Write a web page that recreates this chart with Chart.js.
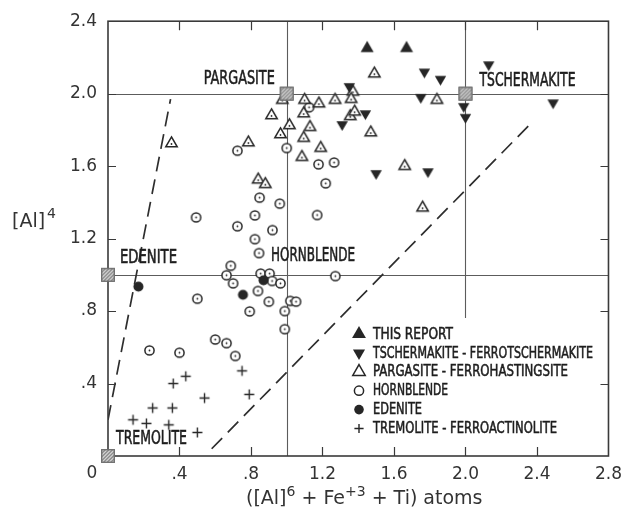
<!DOCTYPE html>
<html><head><meta charset="utf-8">
<script src="https://cdn.jsdelivr.net/npm/chart.js@4"></script>
<style>html,body{margin:0;padding:0;background:#fff;}#wrap{width:630px;height:516px;}</style>
</head><body><div id="wrap"><canvas id="c" width="630" height="516"></canvas></div>
<script>
// ---- data ----
const xTickValues = [0, 0.4, 0.8, 1.2, 1.6, 2.0, 2.4, 2.8];
const yTickValues = [0, 0.4, 0.8, 1.2, 1.6, 2.0, 2.4];
const gridXValues = [1.0, 2.0];
const gridYValues = [1.0, 2.0];

const thisReport = [[1.45, 2.25], [1.67, 2.25]];
const tschermakite = [[1.35, 2.04], [1.31, 1.83], [1.44, 1.89], [1.50, 1.56], [1.79, 1.57], [1.77, 2.12],
  [1.86, 2.08], [1.75, 1.98], [2.13, 2.16], [2.49, 1.95], [1.99, 1.93], [2.00, 1.87]];
const pargasite = [[1.49, 2.11], [1.37, 2.01], [1.36, 1.97], [1.27, 1.965], [1.18, 1.945], [1.10, 1.965],
  [1.095, 1.89], [0.975, 1.965], [0.915, 1.88], [1.015, 1.825], [0.965, 1.775], [1.13, 1.815],
  [1.095, 1.755], [1.19, 1.70], [1.085, 1.65], [0.785, 1.73], [0.355, 1.725], [0.84, 1.525],
  [0.88, 1.50], [1.355, 1.875], [1.38, 1.90], [1.47, 1.785], [1.84, 1.965], [1.66, 1.60], [1.76, 1.37]];
const hornblende = [[1.125, 1.925], [1.0, 1.70], [0.724, 1.685], [1.178, 1.61], [1.265, 1.62], [1.218, 1.505],
  [1.17, 1.33], [0.848, 1.426], [0.961, 1.393], [0.493, 1.317], [0.822, 1.328], [0.724, 1.268],
  [0.92, 1.247], [0.822, 1.197], [0.845, 1.12], [0.687, 1.05], [0.663, 0.998], [0.70, 0.953],
  [0.854, 1.007], [0.904, 1.007], [0.918, 0.966], [0.965, 0.953], [0.839, 0.911], [0.90, 0.852],
  [0.793, 0.798], [1.02, 0.856], [1.052, 0.852], [0.989, 0.80], [0.989, 0.70], [0.50, 0.868],
  [0.60, 0.643], [0.663, 0.623], [0.712, 0.552], [0.40, 0.57], [0.232, 0.583], [1.272, 0.993]];
const edenite = [[0.17, 0.935], [0.87, 0.97], [0.755, 0.89]];
const tremolite = [[0.75, 0.47], [0.79, 0.34], [0.435, 0.44], [0.365, 0.40], [0.54, 0.32], [0.25, 0.265],
  [0.36, 0.265], [0.14, 0.20], [0.215, 0.18], [0.34, 0.172], [0.50, 0.13]];
const endMembers = [[0, 0], [0, 1], [1, 2], [2, 2]];
const leftBoundary = [[0.0, 0.2], [0.35, 1.97]];
const rightBoundary = [[0.58, 0.04], [2.36, 1.83]];

const legendNames = ['THIS REPORT', 'TSCHERMAKITE - FERROTSCHERMAKITE', 'PARGASITE - FERROHASTINGSITE',
  'HORNBLENDE', 'EDENITE', 'TREMOLITE - FERROACTINOLITE'];
const fieldNames = ['PARGASITE', 'TSCHERMAKITE', 'EDENITE', 'HORNBLENDE', 'TREMOLITE'];

// ---- styling helpers ----
const INK = '#262626';
const toXY = a => a.map(p => ({x: p[0], y: p[1]}));

function triPath(g, x, y, r, down) {
  const k = down ? -1 : 1, h = r * Math.sqrt(3) / 2;
  g.beginPath();
  g.moveTo(x, y - k * r);
  g.lineTo(x + h, y + k * r / 2);
  g.lineTo(x - h, y + k * r / 2);
  g.closePath();
}
function drawMarker(g, kind, x, y, r, dot) {
  g.save();
  g.fillStyle = INK; g.strokeStyle = INK; g.lineWidth = 1.5;
  if (kind === 'upFilled') { triPath(g, x, y, r, false); g.fill(); }
  else if (kind === 'downFilled') { triPath(g, x, y, r, true); g.fill(); }
  else if (kind === 'upOpen') {
    triPath(g, x, y, r, false); g.fillStyle = '#fff'; g.fill(); g.stroke();
    if (dot) { g.fillStyle = INK; g.beginPath(); g.arc(x, y + 0.5, 0.9, 0, 7); g.fill(); }
  } else if (kind === 'circleOpen') {
    g.beginPath(); g.arc(x, y, r, 0, Math.PI * 2); g.fillStyle = '#fff'; g.fill(); g.stroke();
    if (dot) { g.fillStyle = INK; g.beginPath(); g.arc(x, y, 0.9, 0, 7); g.fill(); }
  } else if (kind === 'circleFilled') {
    g.beginPath(); g.arc(x, y, r, 0, Math.PI * 2); g.fill();
  } else if (kind === 'plus') {
    g.lineWidth = 1.4;
    g.beginPath(); g.moveTo(x - r, y); g.lineTo(x + r, y); g.moveTo(x, y - r); g.lineTo(x, y + r); g.stroke();
  } else if (kind === 'hatch') {
    const s = r;
    g.fillStyle = '#d4d4d4'; g.fillRect(x - s / 2, y - s / 2, s, s);
    g.save(); g.beginPath(); g.rect(x - s / 2, y - s / 2, s, s); g.clip();
    g.strokeStyle = '#8a8a8a'; g.lineWidth = 1.3;
    for (let d = -s; d <= s; d += 3.6) {
      g.beginPath(); g.moveTo(x - s / 2 + d, y + s / 2); g.lineTo(x + s / 2 + d, y - s / 2); g.stroke();
    }
    g.restore();
    g.strokeStyle = '#707070'; g.lineWidth = 1.3; g.strokeRect(x - s / 2, y - s / 2, s, s);
  }
  g.restore();
}
function makeMarker(kind, r, dot) {
  const s = Math.ceil(2 * r + 5);
  const c = document.createElement('canvas'); c.width = s; c.height = s;
  drawMarker(c.getContext('2d'), kind, s / 2, s / 2, r, dot);
  return c;
}

const imgs = {
  upFilled: makeMarker('upFilled', 7.5),
  downFilled: makeMarker('downFilled', 6.6),
  upOpen: makeMarker('upOpen', 6.6, true),
  circleOpen: makeMarker('circleOpen', 4.6, true),
  circleFilled: makeMarker('circleFilled', 5),
  plus: makeMarker('plus', 5),
  hatch: makeMarker('hatch', 12.5)
};

function scatterSet(label, arr, img, noClip) {
  const d = {type: 'scatter', label, data: toXY(arr), pointStyle: img, pointRadius: 6, showLine: false};
  if (noClip) d.clip = false;
  return d;
}
function boundarySet(label, arr) {
  return {type: 'line', label, data: toXY(arr), showLine: true, pointRadius: 0, borderColor: '#2e2e2e',
    borderWidth: 1.7, borderDash: [15, 8], fill: false, tension: 0};
}

const tickFont = {family: '"DejaVu Sans", "Liberation Sans", sans-serif', size: 17};
const labelFont = '19px "DejaVu Sans Condensed", "Liberation Sans Narrow", "DejaVu Sans", sans-serif';
const legendFont = '16px "DejaVu Sans Condensed", "Liberation Sans Narrow", "DejaVu Sans", sans-serif';

const fieldLabels = [
  {text: fieldNames[0], at: endMembers[2], dx: -12, dy: -15, align: 'right', w: 71},
  {text: fieldNames[1], at: endMembers[3], dx: 14, dy: -13, align: 'left', w: 96},
  {text: fieldNames[2], at: endMembers[1], dx: 12, dy: -17, align: 'left', w: 57},
  {text: fieldNames[3], at: hornblende[14], dx: 12, dy: 3, align: 'left', w: 84},
  {text: fieldNames[4], at: endMembers[0], dx: 8, dy: -17, align: 'left', w: 71}
];
const legendKinds = ['upFilled', 'downFilled', 'upOpen', 'circleOpen', 'circleFilled', 'plus'];
const legendSizes = [8, 7, 7.2, 4.6, 4.8, 4.6];
const legendWidths = [80, 220, 195, 75, 49, 184];

function heavyText(ctx, t, x, y, w) {
  ctx.fillText(t, x, y, w);
  ctx.lineWidth = 0.55; ctx.strokeStyle = ctx.fillStyle;
  ctx.strokeText(t, x, y, w);
}

const decor = {
  id: 'decor',
  beforeDatasetsDraw(chart) {
    const {ctx, chartArea: ca, scales: {x, y}} = chart;
    ctx.save();
    ctx.strokeStyle = '#5c5c5c'; ctx.lineWidth = 1.1;
    gridXValues.forEach(v => {
      const px = Math.round(x.getPixelForValue(v)) + 0.5;
      ctx.beginPath(); ctx.moveTo(px, ca.top); ctx.lineTo(px, ca.bottom); ctx.stroke();
    });
    gridYValues.forEach(v => {
      const py = Math.round(y.getPixelForValue(v)) + 0.5;
      ctx.beginPath(); ctx.moveTo(ca.left, py); ctx.lineTo(ca.right, py); ctx.stroke();
    });
    ctx.restore();
  },
  afterDatasetsDraw(chart) {
    const {ctx, chartArea: ca, scales: {x, y}} = chart;
    ctx.save();
    // legend
    ctx.fillStyle = '#fff';
    ctx.fillRect(ca.left + 240, ca.bottom - 138, ca.right - ca.left - 250, 137);
    const lx = ca.left + 251, ly = ca.bottom - 122;
    legendNames.forEach((t, i) => {
      const yy = ly + i * 18.9;
      drawMarker(ctx, legendKinds[i], lx, yy, legendSizes[i], false);
      ctx.fillStyle = '#1e1e1e'; ctx.font = legendFont; ctx.textBaseline = 'middle'; ctx.textAlign = 'left';
      heavyText(ctx, t, lx + 14, yy + 0.5, legendWidths[i]);
    });
    // field labels
    ctx.font = labelFont; ctx.fillStyle = '#1e1e1e'; ctx.textBaseline = 'middle';
    fieldLabels.forEach(L => {
      const px = x.getPixelForValue(L.at[0]) + L.dx, py = y.getPixelForValue(L.at[1]) + L.dy;
      ctx.textAlign = L.align;
      heavyText(ctx, L.text, px, py, L.w);
    });
    ctx.restore();
  },
  afterDraw(chart) {
    const {ctx, chartArea: ca, scales: {x, y}} = chart;
    ctx.save();
    ctx.strokeStyle = '#3a3a3a'; ctx.lineWidth = 1.6;
    ctx.strokeRect(ca.left, ca.top, ca.right - ca.left, ca.bottom - ca.top);
    ctx.lineWidth = 1.2;
    xTickValues.slice(1, -1).forEach(v => {
      const px = Math.round(x.getPixelForValue(v)) + 0.5;
      ctx.beginPath(); ctx.moveTo(px, ca.bottom); ctx.lineTo(px, ca.bottom - 9);
      ctx.moveTo(px, ca.top); ctx.lineTo(px, ca.top + 9); ctx.stroke();
    });
    yTickValues.slice(1, -1).forEach(v => {
      const py = Math.round(y.getPixelForValue(v)) + 0.5;
      ctx.beginPath(); ctx.moveTo(ca.left, py); ctx.lineTo(ca.left + 8, py);
      ctx.moveTo(ca.right, py); ctx.lineTo(ca.right - 8, py); ctx.stroke();
    });
    // end-member squares on top of the frame
    chart.getDatasetMeta(0).data.forEach(pt => {
      ctx.drawImage(imgs.hatch, pt.x - imgs.hatch.width / 2, pt.y - imgs.hatch.height / 2);
    });
    // origin label
    ctx.fillStyle = '#333'; ctx.font = '17px "DejaVu Sans", "Liberation Sans", sans-serif';
    ctx.textAlign = 'center'; ctx.textBaseline = 'middle';
    ctx.fillText('0', x.getPixelForValue(0) - 16, ca.bottom + 18);
    // axis titles with superscripts
    const main = '19px "DejaVu Sans", "Liberation Sans", sans-serif';
    const sup = '14px "DejaVu Sans", "Liberation Sans", sans-serif';
    const segs = [['([Al]', 0], ['6', 1], [' + Fe', 0], ['+3', 1], [' + Ti) atoms', 0]];
    let total = 0;
    segs.forEach(s => { ctx.font = s[1] ? sup : main; total += ctx.measureText(s[0]).width; });
    let cx = (ca.left + ca.right) / 2 + 6 - total / 2;
    const base = ca.bottom + 48;
    ctx.textAlign = 'left'; ctx.textBaseline = 'alphabetic';
    segs.forEach(s => {
      ctx.font = s[1] ? sup : main;
      ctx.fillText(s[0], cx, s[1] ? base - 8 : base);
      cx += ctx.measureText(s[0]).width;
    });
    ctx.font = main;
    const yb = y.getPixelForValue(1.3) + 7;
    ctx.fillText('[Al]', 12, yb);
    const w = ctx.measureText('[Al]').width;
    ctx.font = sup; ctx.fillText('4', 12 + w + 2, yb - 9);
    ctx.restore();
  }
};

const fmt = v => {
  if (Math.abs(v) < 1e-9) return '';
  return v < 1 ? '.' + Math.round(v * 10) : v.toFixed(1);
};

new Chart(document.getElementById('c'), {
  type: 'scatter',
  data: {
    datasets: [
      scatterSet('End members', endMembers, imgs.hatch, true),
      scatterSet(legendNames[0], thisReport, imgs.upFilled),
      scatterSet(legendNames[1], tschermakite, imgs.downFilled),
      scatterSet(legendNames[4], edenite, imgs.circleFilled),
      scatterSet(legendNames[2], pargasite, imgs.upOpen),
      scatterSet(legendNames[3], hornblende, imgs.circleOpen),
      scatterSet(legendNames[5], tremolite, imgs.plus),
      boundarySet('left boundary', leftBoundary),
      boundarySet('right boundary', rightBoundary)
    ]
  },
  options: {
    responsive: false, animation: false, devicePixelRatio: 1,
    layout: {padding: {top: 17, right: 18, left: 0, bottom: 0}},
    plugins: {legend: {display: false}, tooltip: {enabled: false}},
    scales: {
      x: {
        type: 'linear', min: 0, max: 2.8,
        afterBuildTicks: s => { s.ticks = xTickValues.map(v => ({value: v})); },
        afterFit: s => { s.height = 60; },
        grid: {display: false, drawTicks: false}, border: {display: false},
        ticks: {callback: fmt, font: tickFont, color: '#333', padding: 8, maxRotation: 0, autoSkip: false}
      },
      y: {
        type: 'linear', min: 0, max: 2.4,
        afterBuildTicks: s => { s.ticks = yTickValues.map(v => ({value: v})); },
        afterFit: s => { s.width = 108; },
        grid: {display: false, drawTicks: false}, border: {display: false},
        ticks: {callback: fmt, font: tickFont, color: '#333', padding: 11, autoSkip: false}
      }
    }
  },
  plugins: [decor]
});
</script>
</body></html>
